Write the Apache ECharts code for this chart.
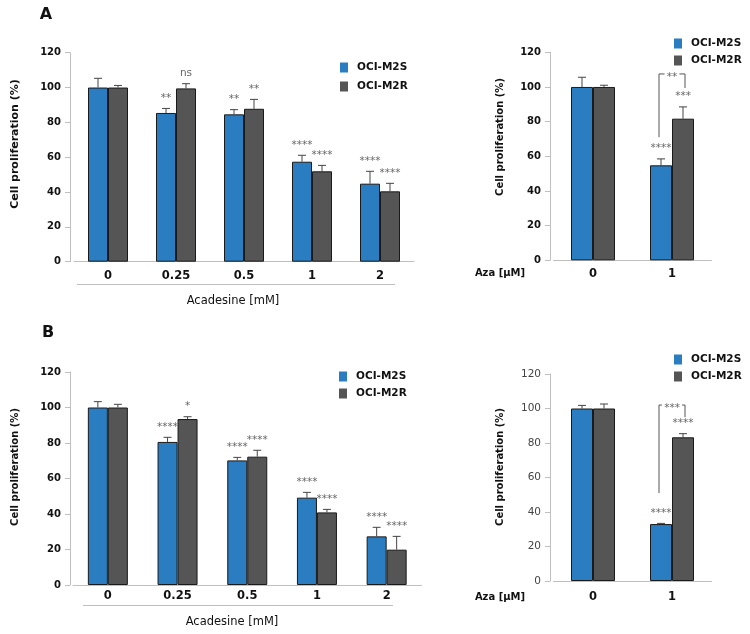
<!DOCTYPE html>
<html>
<head>
<meta charset="utf-8">
<script src="https://cdn.jsdelivr.net/npm/echarts@6/dist/echarts.min.js"></script>
<style>html,body{margin:0;padding:0;background:#fff;}#c{width:750px;height:634px;}</style>
</head>
<body>
<div id="c"></div>
<script>
// ---------- data ----------
const acadCats = ['0', '0.25', '0.5', '1', '2'];
const azaCats = ['0', '1'];
const seriesNames = ['OCI-M2S', 'OCI-M2R'];
const yTicks = [0, 20, 40, 60, 80, 100, 120];

// Panel A – Acadesine
const aAcadS = [100, 85.4, 84.6, 57.4, 44.8];
const aAcadSErr = [5.3, 2.6, 2.7, 3.7, 7.1];
const aAcadSStars = ['', '**', '**', '****', '****'];
const aAcadR = [100, 99.5, 87.8, 51.9, 40.4];
const aAcadRErr = [1.2, 2.7, 5.4, 3.4, 4.6];
const aAcadRStars = ['', 'ns', '**', '****', '****'];

// Panel A – Aza
const aAzaS = [100, 54.8];
const aAzaSErr = [5.6, 3.7];
const aAzaSStars = ['', '****'];
const aAzaR = [100, 81.7];
const aAzaRErr = [1.0, 6.8];
const aAzaRStars = ['', '***'];
const aAzaBracket = { label: '**', leftLow: 71, top: 107.5, rightLow: 99.4 };

// Panel B – Acadesine
const bAcadS = [100, 80.6, 70.2, 49.2, 27.4];
const bAcadSErr = [3.3, 2.6, 1.7, 3.0, 5.1];
const bAcadSStars = ['', '****', '****', '****', '****'];
const bAcadR = [100, 93.5, 72.3, 40.9, 19.9];
const bAcadRErr = [1.8, 1.3, 3.6, 1.7, 7.5];
const bAcadRStars = ['', '*', '****', '****', '****'];

// Panel B – Aza
const bAzaS = [100, 33.0];
const bAzaSErr = [1.8, 0.4];
const bAzaSStars = ['', '****'];
const bAzaR = [100, 83.3];
const bAzaRErr = [2.6, 2.1];
const bAzaRStars = ['', '****'];
const bAzaBracket = { label: '***', leftLow: 51, top: 102, rightLow: 95 };

// ---------- styling ----------
const BLUE = '#2a7dc0';
const GREY = '#555555';
const colors = [BLUE, GREY];
const FB = 'DejaVu Sans';
const axisGrey = '#bfbfbf';

const grids = [
  { left: 74, top: 52.7, width: 340, height: 209 },
  { left: 553.5, top: 52.3, width: 158, height: 208 },
  { left: 73, top: 372, width: 348.5, height: 213 },
  { left: 553.5, top: 374, width: 158, height: 207 }
];
const yOffsets = [4, 3.5, 3, 3.5];
const xMargins = [8, 8, 5, 10];
const barWidths = [20, 22, 20, 22];

function xAxis(i, cats) {
  return {
    type: 'category', gridIndex: i, data: cats,
    axisLine: { lineStyle: { color: axisGrey } },
    axisTick: { show: false },
    axisLabel: { margin: xMargins[i], fontFamily: FB, fontWeight: 'bold', fontSize: 11.5, color: '#111' }
  };
}
function yAxis(i, bold) {
  return {
    type: 'value', gridIndex: i, min: yTicks[0], max: yTicks[yTicks.length - 1], interval: 20,
    offset: yOffsets[i],
    axisLine: { show: true, lineStyle: { color: axisGrey } },
    axisTick: { show: true, length: 5, lineStyle: { color: axisGrey } },
    splitLine: { show: false },
    axisLabel: { margin: 9, fontFamily: FB, fontWeight: bold ? 'bold' : 'normal', fontSize: bold ? 10 : 10.5, color: bold ? '#111' : '#444' }
  };
}
function barSeries(i, k, vals) {
  return {
    type: 'bar', name: seriesNames[k], xAxisIndex: i, yAxisIndex: i,
    data: vals, barWidth: barWidths[i], barGap: '0%',
    itemStyle: { color: colors[k], borderColor: '#1a1a1a', borderWidth: 1 },
    z: 2
  };
}
function errSeries(i, k, means, errs, stars) {
  const bw = barWidths[i];
  const off = (k === 0 ? -1 : 1) * bw / 2;
  return {
    type: 'custom', xAxisIndex: i, yAxisIndex: i, silent: true, z: 5,
    data: means.map((m, j) => [j, m, errs[j]]),
    renderItem: function (params, api) {
      const j = api.value(0), m = api.value(1), e = api.value(2);
      const p0 = api.coord([j, m]);
      const p1 = api.coord([j, m + e]);
      const x = p0[0] + off;
      const children = [
        { type: 'line', shape: { x1: x, y1: p0[1], x2: x, y2: p1[1] }, style: { stroke: '#444', lineWidth: 1 } },
        { type: 'line', shape: { x1: x - 4, y1: p1[1], x2: x + 4, y2: p1[1] }, style: { stroke: '#444', lineWidth: 1 } }
      ];
      const s = stars[params.dataIndex];
      if (s) {
        children.push({ type: 'text', style: { text: s, x: x, y: p1[1] - 5, textAlign: 'center', textVerticalAlign: 'bottom', font: '10.5px ' + FB, fill: '#666' } });
      }
      return { type: 'group', children: children };
    }
  };
}
function bracketSeries(i, br) {
  const bw = barWidths[i];
  return {
    type: 'custom', xAxisIndex: i, yAxisIndex: i, silent: true, z: 5,
    data: [[1, br.top]],
    renderItem: function (params, api) {
      const cat = api.value(0);
      const pt = api.coord([cat, br.top]);
      const pl = api.coord([cat, br.leftLow]);
      const pr = api.coord([cat, br.rightLow]);
      const xl = pt[0] - bw / 2 - 2, xr = pt[0] + bw / 2 + 2;
      const xm = (xl + xr) / 2;
      const halfGap = br.label.length * 2.7 + 2;
      const st = { stroke: '#555', lineWidth: 1 };
      return {
        type: 'group', children: [
          { type: 'line', shape: { x1: xl, y1: pl[1], x2: xl, y2: pt[1] }, style: st },
          { type: 'line', shape: { x1: xl, y1: pt[1], x2: xm - halfGap, y2: pt[1] }, style: st },
          { type: 'line', shape: { x1: xm + halfGap, y1: pt[1], x2: xr, y2: pt[1] }, style: st },
          { type: 'line', shape: { x1: xr, y1: pt[1], x2: xr, y2: pr[1] }, style: st },
          { type: 'text', style: { text: br.label, x: xm, y: pt[1] + 3, textAlign: 'center', textVerticalAlign: 'middle', font: '10.5px ' + FB, fill: '#666' } }
        ]
      };
    }
  };
}
function legend(left, top, gap) {
  return {
    data: seriesNames, orient: 'vertical', left: left, top: top,
    icon: 'rect', itemWidth: 8, itemHeight: 10, itemGap: gap,
    itemStyle: { borderWidth: 0 },
    textStyle: { fontFamily: FB, fontWeight: 'bold', fontSize: 10.5, color: '#111', padding: [0, 0, 0, 4] },
    selectedMode: false
  };
}
function yName(x, y, size) {
  return { type: 'text', x: x, y: y, rotation: Math.PI / 2,
    style: { text: 'Cell proliferation (%)', textAlign: 'center', textVerticalAlign: 'middle', font: 'bold ' + size + 'px ' + FB, fill: '#111' } };
}
function txt(x, y, t, font) {
  return { type: 'text', x: x, y: y, style: { text: t, textAlign: 'center', textVerticalAlign: 'middle', font: font, fill: '#111' } };
}
function hline(x1, x2, y) {
  return { type: 'line', shape: { x1: x1, y1: y, x2: x2, y2: y }, style: { stroke: '#bfbfbf', lineWidth: 1 } };
}

const option = {
  animation: false,
  backgroundColor: '#fff',
  grid: grids,
  xAxis: [xAxis(0, acadCats), xAxis(1, azaCats), xAxis(2, acadCats), xAxis(3, azaCats)],
  yAxis: [yAxis(0, true), yAxis(1, true), yAxis(2, true), yAxis(3, false)],
  legend: [legend(335, 57, 8), legend(669, 33, 6), legend(334, 366, 6), legend(669, 349, 6)],
  series: [
    barSeries(0, 0, aAcadS), barSeries(0, 1, aAcadR),
    errSeries(0, 0, aAcadS, aAcadSErr, aAcadSStars), errSeries(0, 1, aAcadR, aAcadRErr, aAcadRStars),
    barSeries(1, 0, aAzaS), barSeries(1, 1, aAzaR),
    errSeries(1, 0, aAzaS, aAzaSErr, aAzaSStars), errSeries(1, 1, aAzaR, aAzaRErr, aAzaRStars),
    bracketSeries(1, aAzaBracket),
    barSeries(2, 0, bAcadS), barSeries(2, 1, bAcadR),
    errSeries(2, 0, bAcadS, bAcadSErr, bAcadSStars), errSeries(2, 1, bAcadR, bAcadRErr, bAcadRStars),
    barSeries(3, 0, bAzaS), barSeries(3, 1, bAzaR),
    errSeries(3, 0, bAzaS, bAzaSErr, bAzaSStars), errSeries(3, 1, bAzaR, bAzaRErr, bAzaRStars),
    bracketSeries(3, bAzaBracket)
  ],
  graphic: [
    txt(46, 15, 'A', 'bold 16px ' + FB),
    txt(48, 333, 'B', 'bold 16px ' + FB),
    yName(15, 144, 11), yName(500, 137, 10), yName(15, 467, 10), yName(500, 467, 10),
    hline(77, 395, 284.5), hline(83, 393, 605.5),
    txt(233, 301, 'Acadesine [mM]', '11.5px ' + FB),
    txt(232, 622, 'Acadesine [mM]', '11.5px ' + FB),
    txt(500, 273, 'Aza [μM]', 'bold 10px ' + FB),
    txt(500, 597, 'Aza [μM]', 'bold 10px ' + FB)
  ]
};
const chart = echarts.init(document.getElementById('c'), null, { renderer: 'canvas' });
chart.setOption(option);
</script>
</body>
</html>
